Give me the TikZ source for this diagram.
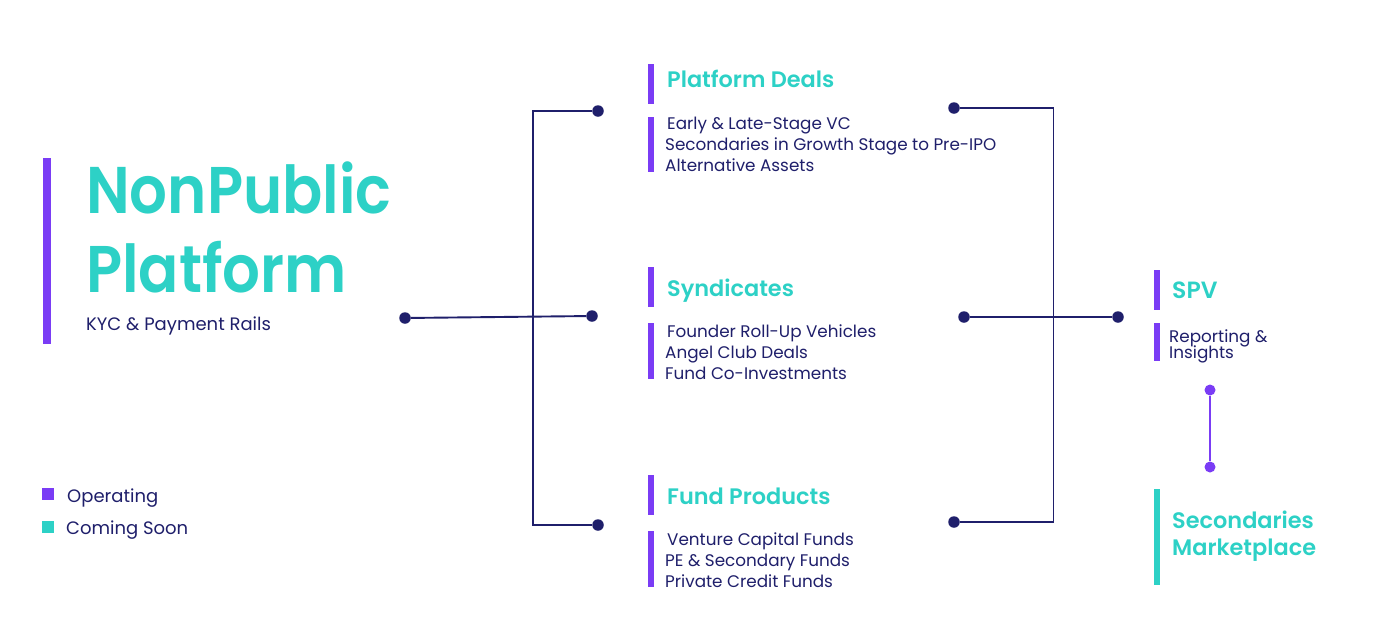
\documentclass[tikz,border=0pt]{standalone}
\usepackage{fontspec}
\setmainfont{Poppins}[BoldFont={Poppins SemiBold}]
\definecolor{purp}{HTML}{7A3CF5}
\definecolor{teal}{HTML}{2DD1C6}
\definecolor{navy}{HTML}{1F1F6B}
\begin{document}
\begin{tikzpicture}[x=1pt,y=-1pt,
  bar/.style={fill=purp,draw=none},
  tbar/.style={fill=teal,draw=none},
  bigtitle/.style={anchor=base west,inner sep=0pt,text=teal,font=\fontsize{66}{77}\selectfont\bfseries},
  title/.style={anchor=base west,inner sep=0pt,text=teal,font=\fontsize{22.4}{26}\selectfont\bfseries},
  desc/.style={anchor=base west,inner sep=0pt,text=navy,font=\fontsize{16.8}{21}\selectfont},
  legend/.style={anchor=base west,inner sep=0pt,text=navy,font=\fontsize{18}{21}\selectfont},
  dot/.style={circle,fill=navy,inner sep=0pt,minimum size=11.5pt},
  pdot/.style={circle,fill=purp,inner sep=0pt,minimum size=11pt},
  link/.style={draw=navy,line width=1.9pt},
  plink/.style={draw=purp,line width=1.9pt}]
\useasboundingbox[fill=white] (0,0) rectangle (1380,633);
% main title
\fill[bar] (43,158) rectangle (51,344);
\node[bigtitle] (np) at (86,213) {\scalebox{0.9}[1]{NonPublic}};
\node[bigtitle] (pl) at (86,292) {\scalebox{0.9}[1]{Platform}};
\node[legend] (kyc) at (86,330) {KYC \& Payment Rails};
% legend
\fill[bar] (42,488) rectangle (54,500);
\node[legend] (op) at (67,502) {Operating};
\fill[tbar] (42,521) rectangle (54,533);
\node[legend] (cs) at (66,534) {Coming Soon};
% middle column
\fill[bar] (648,64) rectangle (654,104);
\node[title] (pd) at (667,87) {Platform Deals};
\fill[bar] (648,117) rectangle (654,172);
\node[desc] (pd1) at (667,129) {Early \& Late-Stage VC};
\node[desc] (pd2) at (665,150) {Secondaries in Growth Stage to Pre-IPO};
\node[desc] (pd3) at (665,171) {Alternative Assets};
\fill[bar] (648,267) rectangle (654,307);
\node[title] (sy) at (667,296) {Syndicates};
\fill[bar] (648,323) rectangle (654,379);
\node[desc] (sy1) at (667,337) {Founder Roll-Up Vehicles};
\node[desc] (sy2) at (665,358) {Angel Club Deals};
\node[desc] (sy3) at (665,379) {Fund Co-Investments};
\fill[bar] (648,475) rectangle (654,515);
\node[title] (fp) at (667,504) {Fund Products};
\fill[bar] (648,531) rectangle (654,587);
\node[desc] (fp1) at (667,545) {Venture Capital Funds};
\node[desc] (fp2) at (665,566) {PE \& Secondary Funds};
\node[desc] (fp3) at (665,587) {Private Credit Funds};
% right column
\fill[bar] (1154,270) rectangle (1160,310);
\node[title,font=\fontsize{23.5}{26}\selectfont\bfseries] (spv) at (1172,298) {SPV};
\fill[bar] (1154,323) rectangle (1160,361);
\node[desc] (ri1) at (1169,342) {Reporting \&};
\node[desc] (ri2) at (1169,358) {Insights};
\fill[tbar] (1154,489) rectangle (1160,585);
\node[title] (sm1) at (1172,528) {Secondaries};
\node[title] (sm2) at (1172,555) {Marketplace};
% dots
\node[dot] (d0) at (405,318) {};
\node[dot] (d1) at (592,316) {};
\node[dot] (d2) at (598,111) {};
\node[dot] (d3) at (598,525) {};
\node[dot] (e1) at (954,108) {};
\node[dot] (e2) at (954,522) {};
\node[dot] (e3) at (964,317) {};
\node[dot] (e4) at (1118,317) {};
\node[pdot] (p1) at (1210,390) {};
\node[pdot] (p2) at (1210,467) {};
% connectors
\draw[link] (d0) -- (d1);
\draw[link] (d2) -- (533,111) -- (533,525) -- (d3);
\draw[link] (e1) -- (1053.5,108) -- (1053.5,522) -- (e2);
\draw[link] (e3) -- (e4);
\draw[plink] (p1) -- (p2);
\end{tikzpicture}
\end{document}
